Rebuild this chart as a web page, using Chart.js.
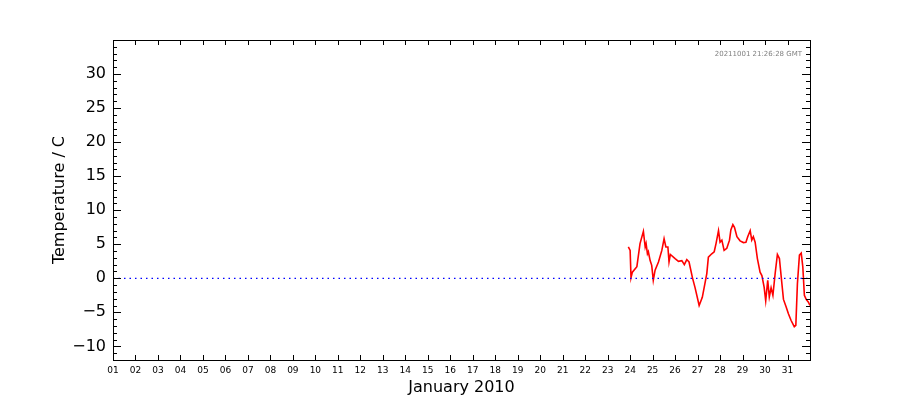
<!DOCTYPE html>
<html>
<head>
<meta charset="utf-8">
<script src="https://cdn.jsdelivr.net/npm/chart.js@4.4.0/dist/chart.umd.min.js"></script>
<style>
  html, body { margin: 0; padding: 0; background: #fff; }
  #wrap { width: 900px; height: 400px; }
</style>
</head>
<body>
<div id="wrap"><canvas id="tempChart"></canvas></div>
<script>
// day of January 2010 (fractional) and temperature in C
const days = [23.92, 24.00, 24.04, 24.10, 24.30, 24.44, 24.59, 24.67, 24.71, 24.77,
  24.81, 24.89, 24.96, 25.03, 25.11, 25.26, 25.41, 25.51, 25.59, 25.68,
  25.73, 25.79, 26.00, 26.15, 26.30, 26.41, 26.52, 26.62, 26.77, 26.89,
  27.07, 27.21, 27.41, 27.48, 27.63, 27.74, 27.82, 27.93, 28.00, 28.08,
  28.18, 28.30, 28.42, 28.48, 28.57, 28.64, 28.75, 28.89, 29.04, 29.15,
  29.23, 29.34, 29.41, 29.48, 29.56, 29.66, 29.78, 29.86, 29.96, 30.03,
  30.12, 30.19, 30.27, 30.35, 30.45, 30.55, 30.64, 30.75, 30.82, 30.94,
  31.04, 31.16, 31.30, 31.37, 31.44, 31.53, 31.61, 31.68, 31.75, 31.83,
  31.93, 32.00];
const temps = [4.6, 4.1, 0.1, 0.9, 1.7, 5.1, 6.9, 4.6, 5.1, 3.6,
  3.9, 2.6, 1.9, -0.3, 1.2, 2.4, 4.1, 5.8, 4.6, 4.6,
  2.4, 3.5, 2.9, 2.5, 2.6, 2.0, 2.75, 2.4, 0.1, -1.4,
  -4.0, -2.8, 0.7, 3.1, 3.6, 3.9, 5.1, 7.0, 5.3, 5.6,
  4.1, 4.4, 5.6, 7.1, 7.9, 7.5, 6.1, 5.5, 5.25, 5.3,
  6.1, 7.0, 5.6, 6.1, 5.3, 2.9, 0.9, 0.4, -1.3, -3.3,
  -0.3, -2.75, -1.4, -2.5, 0.7, 3.5, 2.9, -0.8, -3.1, -4.2,
  -5.2, -6.2, -7.1, -6.9, -0.8, 3.4, 3.7, 1.7, -2.5, -3.1,
  -3.5, -4.0];
const zeroLine = [[1, 0], [32, 0]];
const dayLabels = ['01','02','03','04','05','06','07','08','09','10','11','12','13','14','15','16',
  '17','18','19','20','21','22','23','24','25','26','27','28','29','30','31'];
const yTicks = [-10, -5, 0, 5, 10, 15, 20, 25, 30];
const stamp = '20211001 21:26:28 GMT';

const frame = {
  id: 'frame',
  afterDraw(chart) {
    const ctx = chart.ctx, a = chart.chartArea;
    const xs = chart.scales.x, ys = chart.scales.y;
    ctx.save();
    ctx.strokeStyle = '#000';
    ctx.lineWidth = 1;
    ctx.beginPath();
    // inward ticks, x every day
    for (let d = 1; d <= 32; d++) {
      const px = Math.round(xs.getPixelForValue(d)) + 0.5;
      ctx.moveTo(px, a.bottom); ctx.lineTo(px, a.bottom - 5);
      ctx.moveTo(px, a.top); ctx.lineTo(px, a.top + 5);
    }
    // y major every 5, minor every 1
    for (let v = -12; v <= 35; v++) {
      const py = Math.round(ys.getPixelForValue(v)) + 0.5;
      const len = v % 5 === 0 ? 8 : 4;
      ctx.moveTo(a.left, py); ctx.lineTo(a.left + len, py);
      ctx.moveTo(a.right, py); ctx.lineTo(a.right - len, py);
    }
    ctx.stroke();
    ctx.strokeRect(Math.round(a.left) + 0.5, Math.round(a.top) + 0.5,
      Math.round(a.right - a.left), Math.round(a.bottom - a.top));
    ctx.fillStyle = '#808080';
    ctx.font = '7px "DejaVu Sans"';
    ctx.textAlign = 'right';
    ctx.textBaseline = 'middle';
    ctx.fillText(stamp, a.right - 8, a.top + 14);
    ctx.restore();
  }
};

new Chart(document.getElementById('tempChart'), {
  type: 'line',
  data: {
    datasets: [{
      data: zeroLine.map(p => ({ x: p[0], y: p[1] })),
      borderColor: '#0000ff',
      borderWidth: 1.3,
      borderDash: [1.5, 4],
      pointRadius: 0
    }, {
      data: days.map((d, i) => ({ x: d, y: temps[i] })),
      borderColor: '#ff0000',
      borderWidth: 1.6,
      pointRadius: 0,
      tension: 0
    }]
  },
  options: {
    responsive: true,
    maintainAspectRatio: false,
    animation: false,
    layout: { padding: { left: 0, right: 90, top: 40, bottom: 0 } },
    plugins: { legend: { display: false }, tooltip: { enabled: false } },
    scales: {
      x: {
        type: 'linear',
        min: 1,
        max: 32,
        afterBuildTicks(scale) {
          scale.ticks = dayLabels.map((_, i) => ({ value: i + 1 }));
        },
        afterFit(scale) { scale.height = 40; },
        grid: { display: false, drawTicks: false },
        border: { display: false },
        ticks: {
          autoSkip: false,
          maxRotation: 0,
          padding: 5,
          color: '#000',
          font: { family: 'DejaVu Sans', size: 9 },
          callback: v => dayLabels[v - 1]
        },
        title: {
          display: true,
          text: 'January 2010',
          color: '#000',
          font: { family: 'DejaVu Sans', size: 16 },
          padding: { top: 0, bottom: 3 }
        }
      },
      y: {
        min: -12,
        max: 35,
        afterBuildTicks(scale) {
          scale.ticks = yTicks.map(v => ({ value: v }));
        },
        afterFit(scale) { scale.width = 113; },
        grid: { display: false, drawTicks: false },
        border: { display: false },
        ticks: {
          padding: 7,
          color: '#000',
          font: { family: 'DejaVu Sans', size: 16 },
          callback: v => (v < 0 ? '\u2212' + Math.abs(v) : String(v))
        },
        title: {
          display: true,
          text: 'Temperature / C',
          color: '#000',
          font: { family: 'DejaVu Sans', size: 16 },
          padding: { top: 50, bottom: 0 }
        }
      }
    }
  },
  plugins: [frame]
});
</script>
</body>
</html>
